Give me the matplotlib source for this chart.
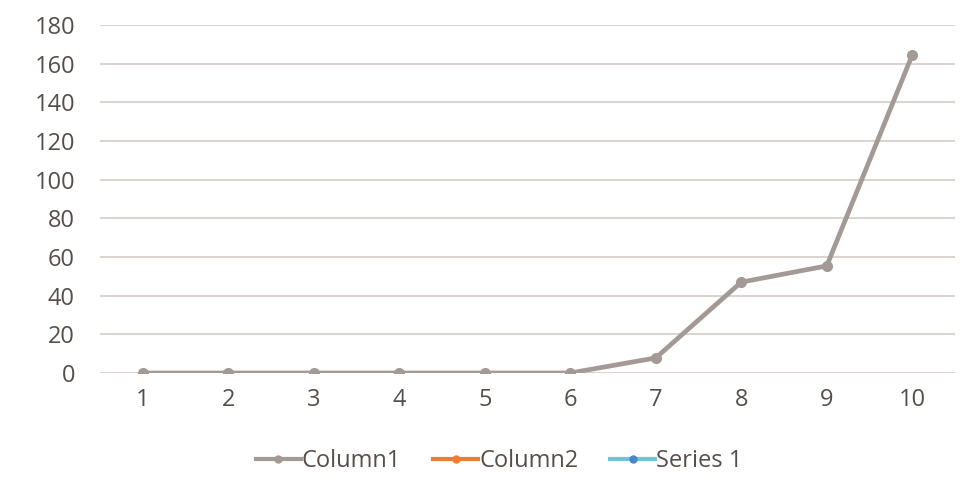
import matplotlib
matplotlib.use("Agg")
import matplotlib.pyplot as plt
from matplotlib.lines import Line2D

# Data
categories = [1, 2, 3, 4, 5, 6, 7, 8, 9, 10]
column1 = [0, 0, 0, 0, 0, 0, 7.8, 47, 55.4, 164.5]
column2 = []
series1 = []
y_ticks = [0, 20, 40, 60, 80, 100, 120, 140, 160, 180]

plt.rcParams['font.family'] = ['Open Sans', 'DejaVu Sans']

text_color = '#564e4b'
grid_color = '#d9d2cf'
c1_color = '#a39a96'
c2_color = '#ed7d31'
s1_color = '#6cc3dc'
s1_marker = '#4a86c8'

fig = plt.figure(figsize=(9.6, 4.83), dpi=100)
ax = fig.add_axes([100 / 960, (483 - 373) / 483, 855 / 960, 348 / 483])

x_pos = list(range(len(categories)))
ax.plot(x_pos, column1, color=c1_color, lw=3.4, marker='o', ms=7,
        solid_joinstyle='round', zorder=3)

ax.set_xlim(-0.5, len(categories) - 0.5)
ax.set_ylim(0, 180)
ax.set_yticks(y_ticks)
ax.set_xticks(x_pos)
ax.set_xticklabels([str(c) for c in categories])
ax.grid(axis='y', color=grid_color, lw=1.4)
ax.set_axisbelow(True)
for s in ax.spines.values():
    s.set_visible(False)
ax.tick_params(axis='both', length=0, labelsize=17, colors=text_color)
ax.tick_params(axis='y', pad=18)
ax.tick_params(axis='x', pad=11)

handles = [
    Line2D([], [], color=c1_color, lw=3, marker='o', ms=5),
    Line2D([], [], color=c2_color, lw=3, marker='o', ms=5),
    Line2D([], [], color=s1_color, lw=3, marker='o', ms=5, mfc=s1_marker, mec=s1_marker),
]
fig.legend(handles, ['Column1', 'Column2', 'Series 1'], loc='center',
           bbox_to_anchor=(0.52, (483 - 461) / 483), ncol=3, frameon=False,
           fontsize=17, labelcolor=text_color, handlelength=1.9,
           handletextpad=0.05, columnspacing=1.35)

fig.savefig('out.png', dpi=100, facecolor='white')
